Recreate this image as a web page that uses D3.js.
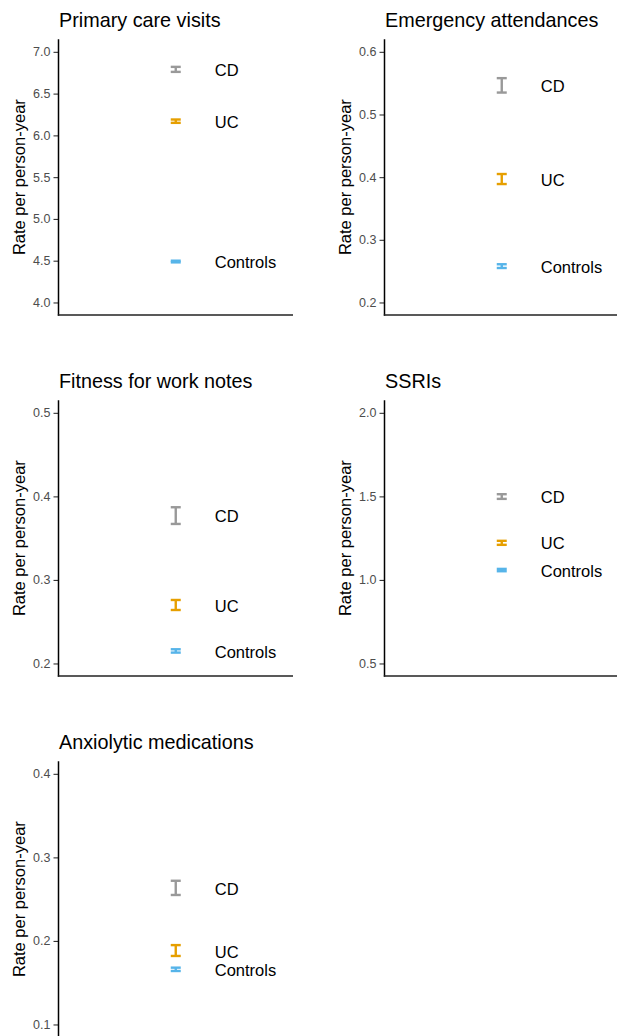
<!DOCTYPE html>
<html>
<head>
<meta charset="utf-8">
<script src="https://cdn.jsdelivr.net/npm/d3@7"></script>
<style>
body { margin: 0; background: #fff; }
svg { display: block; font-family: "Liberation Sans", Arial, sans-serif; }
</style>
</head>
<body>
<div id="chart"></div>
<script>
// groups and colours
var groups = ["CD", "UC", "Controls"];
var groupColors = ["#999999", "#E69F00", "#56B4E9"];

// one entry per panel
var titles = ["Primary care visits", "Emergency attendances", "Fitness for work notes", "SSRIs", "Anxiolytic medications"];

var rateCD = [6.79, 0.546, 0.377, 1.499, 0.263];
var lowCD = [6.76, 0.535, 0.367, 1.485, 0.255];
var highCD = [6.82, 0.558, 0.387, 1.513, 0.272];

var rateUC = [6.17, 0.397, 0.270, 1.222, 0.188];
var lowUC = [6.15, 0.389, 0.264, 1.210, 0.182];
var highUC = [6.19, 0.405, 0.276, 1.234, 0.195];

var rateControls = [4.49, 0.258, 0.215, 1.059, 0.166];
var lowControls = [4.48, 0.255, 0.213, 1.052, 0.164];
var highControls = [4.50, 0.261, 0.217, 1.066, 0.168];

var yLimits = [[3.85, 7.15], [0.18, 0.62], [0.185, 0.515], [0.425, 2.075], [0.085, 0.415]];
var yTicks = [
	[4.0, 4.5, 5.0, 5.5, 6.0, 6.5, 7.0],
	[0.2, 0.3, 0.4, 0.5, 0.6],
	[0.2, 0.3, 0.4, 0.5],
	[0.5, 1.0, 1.5, 2.0],
	[0.1, 0.2, 0.3, 0.4]
];

var W = 617, H = 1036;
var colStep = 326, rowStep = 361;
var axisX0 = 58.5, plotTop = 39.3, plotBottom = 315, plotWidth = 234.5;

var svg = d3.select("#chart").append("svg").attr("width", W).attr("height", H);
svg.append("rect").attr("width", W).attr("height", H).attr("fill", "#fff");

titles.forEach(function(title, p) {
	var col = p % 2, row = Math.floor(p / 2);
	var left = axisX0 + col * colStep;
	var top = row * rowStep;

	var g = svg.append("g").attr("transform", "translate(" + left + "," + top + ")");

	var y = d3.scaleLinear().domain(yLimits[p]).range([plotBottom, plotTop]);
	var x = d3.scalePoint().domain(["all"]).range([0, plotWidth]).padding(0.5);

	var rows = [
		{group: groups[0], color: groupColors[0], rate: rateCD[p], lo: lowCD[p], hi: highCD[p]},
		{group: groups[1], color: groupColors[1], rate: rateUC[p], lo: lowUC[p], hi: highUC[p]},
		{group: groups[2], color: groupColors[2], rate: rateControls[p], lo: lowControls[p], hi: highControls[p]}
	];

	// y axis
	var yAxis = d3.axisLeft(y).tickValues(yTicks[p]).tickFormat(d3.format(".1f")).tickSize(5).tickPadding(3);
	var ya = g.append("g").call(yAxis);
	ya.select(".domain").remove();
	ya.selectAll(".tick line").attr("stroke", "#333333").attr("stroke-width", 1.1);
	ya.selectAll(".tick text").attr("fill", "#4D4D4D").style("font-size", "12.5px").attr("font-family", null);

	g.append("line").attr("x1", 0).attr("x2", 0).attr("y1", plotTop).attr("y2", plotBottom + 0.7)
		.attr("stroke", "#000").attr("stroke-width", 1.5);
	g.append("line").attr("x1", -0.7).attr("x2", plotWidth).attr("y1", plotBottom).attr("y2", plotBottom)
		.attr("stroke", "#222").attr("stroke-width", 1.5);

	// titles
	g.append("text").attr("x", 0.5).attr("y", 26.5)
		.style("font-size", "19.8px").attr("fill", "#000").text(title);
	g.append("text")
		.attr("transform", "translate(-33.5," + ((plotTop + plotBottom) / 2) + ") rotate(-90)")
		.attr("text-anchor", "middle").style("font-size", "16.5px").attr("fill", "#000")
		.text("Rate per person-year");

	// error bars
	var cx = x("all");
	var bars = g.selectAll("g.bar").data(rows).enter().append("g").attr("class", "bar")
		.attr("stroke", function(d) { return d.color; }).attr("stroke-width", 2.4);
	bars.append("line").attr("x1", cx).attr("x2", cx)
		.attr("y1", function(d) { return y(d.lo); }).attr("y2", function(d) { return y(d.hi); });
	bars.append("line").attr("x1", cx - 5).attr("x2", cx + 5)
		.attr("y1", function(d) { return y(d.lo); }).attr("y2", function(d) { return y(d.lo); });
	bars.append("line").attr("x1", cx - 5).attr("x2", cx + 5)
		.attr("y1", function(d) { return y(d.hi); }).attr("y2", function(d) { return y(d.hi); });

	g.selectAll("text.lab").data(rows).enter().append("text").attr("class", "lab")
		.attr("x", cx + 39).attr("y", function(d) { return y(d.rate); })
		.attr("dy", "0.4em").style("font-size", "16.5px").attr("fill", "#000")
		.text(function(d) { return d.group; });
});
</script>
</body>
</html>
